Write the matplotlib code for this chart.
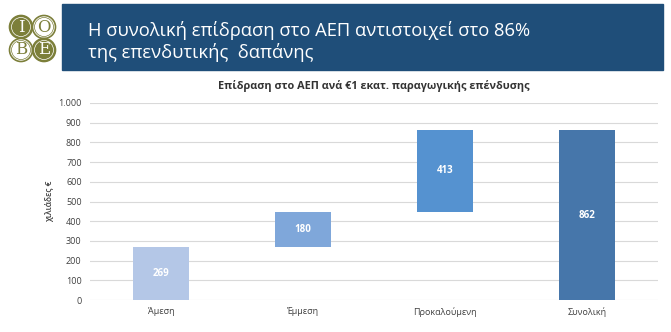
import matplotlib.pyplot as plt
from matplotlib.patches import Rectangle, Circle

# data
categories = ['Άμεση', 'Έμμεση', 'Προκαλούμενη', 'Συνολική']
values = [269, 180, 413, 862]
bottoms = [0, 269, 449, 0]
colors = ['#B4C7E7', '#7FA7DA', '#5592D0', '#4676AA']
yticks = [0, 100, 200, 300, 400, 500, 600, 700, 800, 900, 1000]
ytick_labels = ['0', '100', '200', '300', '400', '500', '600', '700', '800', '900', '1.000']

plt.rcParams['font.family'] = ['Open Sans', 'DejaVu Sans']

fig = plt.figure(figsize=(6.71, 3.32), dpi=100)
fig.patch.set_facecolor('white')

# header band
fig.patches.append(Rectangle((62 / 671, 1 - 70 / 332), 601 / 671, 66 / 332,
                             transform=fig.transFigure, color='#1F4E79', zorder=0))
fig.text(88 / 671, 1 - 30 / 332, 'Η συνολική επίδραση στο ΑΕΠ αντιστοιχεί στο 86%',
         color='white', fontsize=13.2, va='center', ha='left')
fig.text(88 / 671, 1 - 52 / 332, 'της επενδυτικής  δαπάνης',
         color='white', fontsize=13.2, va='center', ha='left')

# logo
olive = '#7C7F3A'
logo = [(21, 27, 'Ι', True), (44, 27, 'Ο', False), (21, 50, 'Β', False), (44, 50, 'Ε', True)]
for cx, cy, ch, filled in logo:
    x, y = cx / 671, 1 - cy / 332
    fig.patches.append(Circle((cx, 332 - cy), 11.5, transform=None,
                              facecolor=olive if filled else 'white',
                              edgecolor=olive, lw=1.2))
    fig.patches.append(Circle((cx, 332 - cy), 9.5, transform=None, fill=False,
                              edgecolor='white' if filled else olive, lw=0.5))
    fig.text(x, y, ch, color='white' if filled else olive, fontsize=12,
             ha='center', va='center', family='DejaVu Serif')

# chart
ax = fig.add_axes([90 / 671, 1 - 300 / 332, 568 / 671, 197 / 332])
x = range(len(categories))
bars = ax.bar(x, values, bottom=bottoms, color=colors, width=0.4, zorder=3)
for b, v in zip(bars, values):
    ax.text(b.get_x() + b.get_width() / 2, b.get_y() + b.get_height() / 2, str(v),
            ha='center', va='center', color='white', fontsize=7, fontweight='bold', zorder=4)

ax.set_xlim(-0.5, 3.5)
ax.set_ylim(0, 1000)
ax.set_yticks(yticks)
ax.set_yticklabels(ytick_labels)
ax.set_xticks(list(x))
ax.set_xticklabels(categories)
ax.tick_params(axis='both', length=0, labelsize=6.5, colors='#404040')
ax.tick_params(axis='y', pad=6)
ax.tick_params(axis='x', pad=5)
ax.grid(axis='y', color='#D9D9D9', lw=0.8, zorder=0)
for s in ax.spines.values():
    s.set_visible(False)
ax.set_ylabel('χιλιάδες €', fontsize=6, color='#404040', labelpad=3, fontweight='semibold')
ax.set_title('Επίδραση στο ΑΕΠ ανά €1 εκατ. παραγωγικής επένδυσης',
             fontsize=7.8, fontweight='bold', color='#333333', pad=10)

fig.savefig('out.png', dpi=100)
